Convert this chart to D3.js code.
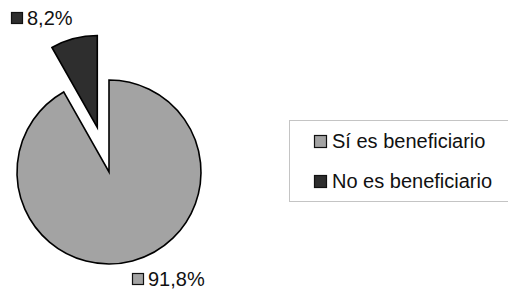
<!DOCTYPE html>
<html>
<head>
<meta charset="utf-8">
<script src="https://cdn.jsdelivr.net/npm/d3@7"></script>
<style>
  body { margin: 0; background: #fff; }
  svg { display: block; }
</style>
</head>
<body>
<div id="chart"></div>
<script>
// donnees
const categories = ["Sí es beneficiario", "No es beneficiario"];
const valeurs = [91.8, 8.2];
const etiquettes = ["91,8%", "8,2%"];

const width = 508, height = 291,
    cx = 109, cy = 172, rayon = 92,
    decalage = 46;

const couleurs = d3.scaleOrdinal()
    .domain(categories)
    .range(["#a3a3a3", "#2e2e2e"]);

const svg = d3.select("#chart")
    .append("svg")
    .attr("width", width)
    .attr("height", height);

const pie = d3.pie().sort(null).value(d => d.v);
const arcs = pie(categories.map((c, i) => ({ c, v: valeurs[i], lab: etiquettes[i] })));

const arc = d3.arc().innerRadius(0).outerRadius(rayon);

const g = svg.append("g")
    .attr("transform", `translate(${cx},${cy})`);

// la petite part est detachee
g.selectAll("path")
    .data(arcs)
    .join("path")
    .attr("d", arc)
    .attr("transform", (d, i) => {
      if (i === 0) return null;
      const a = (d.startAngle + d.endAngle) / 2;
      return `translate(${decalage * Math.sin(a)},${-decalage * Math.cos(a)})`;
    })
    .attr("fill", d => couleurs(d.data.c))
    .attr("stroke", "#000")
    .attr("stroke-width", 1.6)
    .attr("stroke-linejoin", "miter");

// etiquettes des pourcentages
const posLabels = [[132, 286], [11, 25]];
const lab = svg.append("g")
    .style("font-family", "Arial, 'Liberation Sans', sans-serif")
    .style("font-size", "20px");

const items = lab.selectAll("g")
    .data(arcs)
    .join("g")
    .attr("transform", (d, i) => `translate(${posLabels[i][0]},${posLabels[i][1]})`);

items.append("rect")
    .attr("x", 0.5).attr("y", -12.5)
    .attr("width", 11).attr("height", 11)
    .attr("fill", d => couleurs(d.data.c))
    .attr("stroke", "#111")
    .attr("stroke-width", 1.2);

items.append("text")
    .attr("x", 16)
    .attr("y", 0)
    .attr("fill", "#111")
    .text(d => d.data.lab);

// legende
const leg = svg.append("g")
    .style("font-family", "Arial, 'Liberation Sans', sans-serif")
    .style("font-size", "20px");

leg.append("rect")
    .attr("x", 289.5).attr("y", 120.5)
    .attr("width", 225).attr("height", 81)
    .attr("fill", "none")
    .attr("stroke", "#888")
    .attr("stroke-dasharray", "1,1");

const legItems = leg.selectAll("g")
    .data(categories)
    .join("g")
    .attr("transform", (d, i) => `translate(314,${148 + i * 40})`);

legItems.append("rect")
    .attr("x", 0.5).attr("y", -12.5)
    .attr("width", 12).attr("height", 12)
    .attr("fill", d => couleurs(d))
    .attr("stroke", "#111")
    .attr("stroke-width", 1.2);

legItems.append("text")
    .attr("x", 18)
    .attr("y", 0)
    .attr("fill", "#111")
    .text(d => d);
</script>
</body>
</html>
